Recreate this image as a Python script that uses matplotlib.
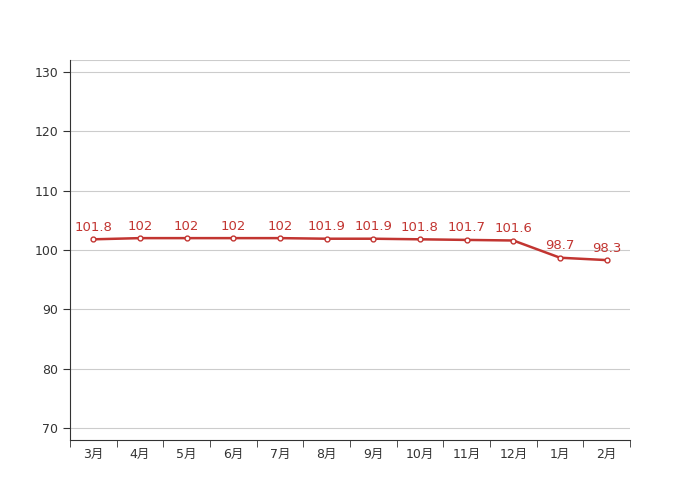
import numpy as np
import matplotlib
matplotlib.use('Agg')
import matplotlib.pyplot as plt

plt.rcParams['font.family'] = ['DejaVu Sans', 'Noto Sans CJK SC']

months = ["3月", "4月", "5月", "6月", "7月", "8月", "9月", "10月", "11月", "12月", "1月", "2月"]
values = [101.8, 102, 102, 102, 102, 101.9, 101.9, 101.8, 101.7, 101.6, 98.7, 98.3]
labels = ["101.8", "102", "102", "102", "102", "101.9", "101.9", "101.8", "101.7", "101.6", "98.7", "98.3"]

color = '#c23531'

fig = plt.figure(figsize=(7, 5), dpi=100)
ax = fig.add_axes([0.1, 0.12, 0.8, 0.76])

x = np.arange(len(months))
ax.plot(x, values, color=color, lw=1.8, marker='o', ms=3.5, mfc='white', mec=color, mew=1, zorder=3)
for xi, v, t in zip(x, values, labels):
    ax.annotate(t, (xi, v), xytext=(0, 4), textcoords='offset points', ha='center', va='bottom',
                color=color, fontsize=9.5)

ax.set_xlim(-0.5, len(months) - 0.5)
ax.set_ylim(68, 132)
ax.set_yticks(np.arange(70, 131, 10))
ax.grid(axis='y', color='#cccccc', lw=0.8)
ax.axhline(132, color='#cccccc', lw=0.8)
ax.set_axisbelow(True)

ax.set_xticks(x)
ax.set_xticklabels(months)
ax.set_xticks(np.arange(-0.5, len(months)), minor=True)
ax.tick_params(axis='x', which='major', length=0, pad=6, labelsize=9, labelcolor='#333333')
ax.tick_params(axis='x', which='minor', length=5, color='#333333')
ax.tick_params(axis='y', length=5, color='#333333', labelsize=9, labelcolor='#333333')

for s in ['top', 'right']:
    ax.spines[s].set_visible(False)
for s in ['left', 'bottom']:
    ax.spines[s].set_color('#333333')

fig.savefig('out.png', dpi=100)
